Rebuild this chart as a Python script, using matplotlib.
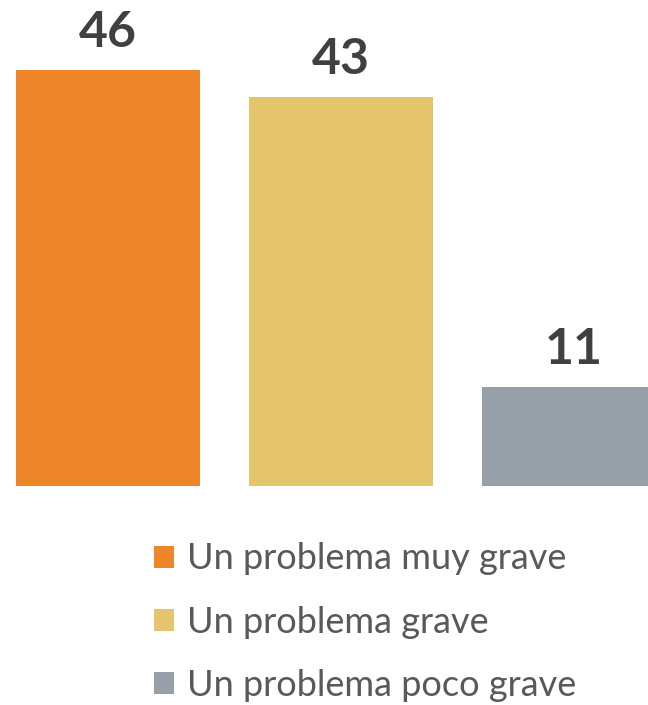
import numpy as np
import matplotlib
matplotlib.use('Agg')
import matplotlib.pyplot as plt

categories = ['Un problema muy grave', 'Un problema grave', 'Un problema poco grave']
values = [46, 43, 11]
colors = ['#EE8629', '#E5C46E', '#979FA8']

plt.rcParams['font.family'] = ['Lato', 'DejaVu Sans']

fig = plt.figure(figsize=(6.48, 7.05), dpi=100)
# axes: bottom of bars at 486 px from top, spans full width
ax = fig.add_axes([0, 219/705, 1, 486/705])

x = np.arange(len(values))
bars = []
for i in range(len(values)):
    b = ax.bar(x[i], values[i], width=0.79, color=colors[i], label=categories[i])
    bars.append(b)
    ax.text(x[i], values[i] + 1.65, str(values[i]), ha='center', va='bottom',
            fontsize=36, fontweight='bold', color='#404040')

ax.set_xlim(-0.4637, 2.317)
ax.set_ylim(0, 486/9.04)
ax.axis('off')

leg = fig.legend(handles=[b[0] for b in bars], labels=categories,
                 loc='upper left', bbox_to_anchor=(140/648, 1 - 528/705),
                 frameon=False, fontsize=26, handlelength=0.55, handleheight=0.55,
                 handletextpad=0.35, labelspacing=0.84, borderaxespad=0)
for t in leg.get_texts():
    t.set_color('#595959')

fig.savefig('out.png', dpi=100)
